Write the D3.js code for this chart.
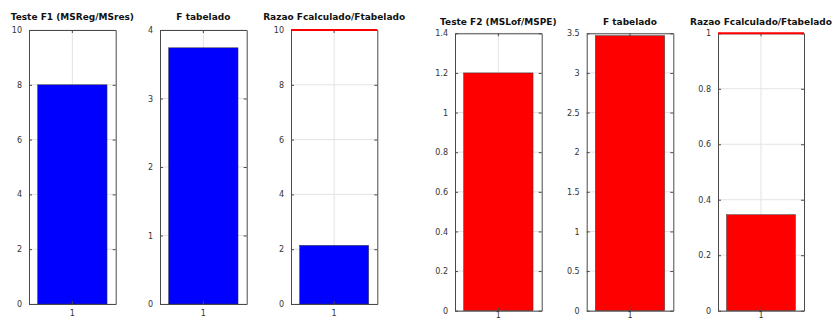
<!DOCTYPE html>
<html><head><meta charset="utf-8">
<script src="https://cdn.jsdelivr.net/npm/d3@7"></script>
<style>body{margin:0;background:#fff}svg{display:block}</style>
</head><body><svg id="c" width="832" height="322"></svg>
<script>
const categories = ["1"];
const titles = ["Teste F1 (MSReg/MSres)", "F tabelado", "Razao Fcalculado/Ftabelado",
                "Teste F2 (MSLof/MSPE)", "F tabelado", "Razao Fcalculado/Ftabelado"];
const f1Values = [8];
const fTab1Values = [3.74];
const ratio1Values = [2.14];
const f2Values = [1.2];
const fTab2Values = [3.47];
const ratio2Values = [0.346];
const yMax = [10, 4, 10, 1.4, 3.5, 1];
const yTicks = [
  [0, 2, 4, 6, 8, 10],
  [0, 1, 2, 3, 4],
  [0, 2, 4, 6, 8, 10],
  [0, 0.2, 0.4, 0.6, 0.8, 1, 1.2, 1.4],
  [0, 0.5, 1, 1.5, 2, 2.5, 3, 3.5],
  [0, 0.2, 0.4, 0.6, 0.8, 1]
];
const thresholds = [null, null, 10, null, null, 1];
const seriesValues = [f1Values, fTab1Values, ratio1Values, f2Values, fTab2Values, ratio2Values];
const barColors = ["#0000ff", "#0000ff", "#0000ff", "#ff0000", "#ff0000", "#ff0000"];

const panels = [
  {x0: 29, x1: 115.7, y0: 30, y1: 304, ty: 20, xp: 6},
  {x0: 160, x1: 246.7, y0: 30, y1: 304, ty: 20, xp: 6},
  {x0: 291, x1: 377.3, y0: 30, y1: 304, ty: 20, xp: 6},
  {x0: 455, x1: 541.7, y0: 33.3, y1: 310.7, ty: 25, xp: 2},
  {x0: 586.7, x1: 673.3, y0: 33.3, y1: 310.7, ty: 25, xp: 2},
  {x0: 718, x1: 804, y0: 33.3, y1: 310.7, ty: 25, xp: 2}
];

const svg = d3.select("#c");
const axisColor = "#4a4a4a";
const gridColor = "#e3e3e3";
const font = "DejaVu Sans, Verdana, sans-serif";

panels.forEach((p, i) => {
  const g = svg.append("g");
  const full = d3.scaleBand().domain(categories).range([p.x0, p.x1]).padding(0);
  const xc = d => full(d) + full.bandwidth() / 2;
  const y = d3.scaleLinear().domain([0, yMax[i]]).range([p.y1, p.y0]);
  // grid
  g.selectAll(".hg").data(yTicks[i]).enter().append("line")
    .attr("x1", p.x0).attr("x2", p.x1).attr("y1", d => y(d)).attr("y2", d => y(d))
    .attr("stroke", gridColor).attr("stroke-width", 1);
  g.selectAll(".vg").data(categories).enter().append("line")
    .attr("x1", d => xc(d)).attr("x2", d => xc(d)).attr("y1", p.y0).attr("y2", p.y1)
    .attr("stroke", gridColor).attr("stroke-width", 1);
  // bars
  g.selectAll(".bar").data(seriesValues[i]).enter().append("rect")
    .attr("x", (d, k) => full(categories[k]) + full.bandwidth() * 0.1)
    .attr("width", full.bandwidth() * 0.8)
    .attr("y", d => y(d)).attr("height", d => y(0) - y(d))
    .attr("fill", barColors[i]).attr("stroke", "#333").attr("stroke-width", 0.5);
  // axes
  const left = d3.axisLeft(y).tickValues(yTicks[i]).tickSizeInner(-3).tickSizeOuter(0).tickPadding(7).tickFormat(d3.format("~g"));
  const right = d3.axisRight(y).tickValues(yTicks[i]).tickSizeInner(-3).tickSizeOuter(0).tickFormat("");
  const bottom = d3.axisBottom(full).tickSizeInner(-3).tickSizeOuter(0).tickPadding(p.xp);
  const top = d3.axisTop(full).tickSizeInner(-3).tickSizeOuter(0).tickFormat("");
  const ga = [
    g.append("g").attr("transform", `translate(${p.x0},0)`).call(left),
    g.append("g").attr("transform", `translate(${p.x1},0)`).call(right),
    g.append("g").attr("transform", `translate(0,${p.y1})`).call(bottom),
    g.append("g").attr("transform", `translate(0,${p.y0})`).call(top)
  ];
  ga.forEach(a => {
    a.select(".domain").attr("stroke", axisColor).attr("stroke-width", 1);
    a.selectAll(".tick line").attr("stroke", axisColor);
    a.selectAll("text").attr("fill", "#333").style("font-family", font).style("font-size", "8px");
  });
  // threshold line
  if (thresholds[i] !== null) {
    g.append("line").attr("x1", p.x0).attr("x2", p.x1)
      .attr("y1", y(thresholds[i])).attr("y2", y(thresholds[i]))
      .attr("stroke", "#ff0000").attr("stroke-width", 2);
  }
  // title
  g.append("text").attr("x", (p.x0 + p.x1) / 2).attr("y", p.ty)
    .attr("text-anchor", "middle").style("font-family", font).style("font-weight", "bold")
    .style("font-size", "9px").attr("fill", "#111").text(titles[i]);
});
</script></body></html>
